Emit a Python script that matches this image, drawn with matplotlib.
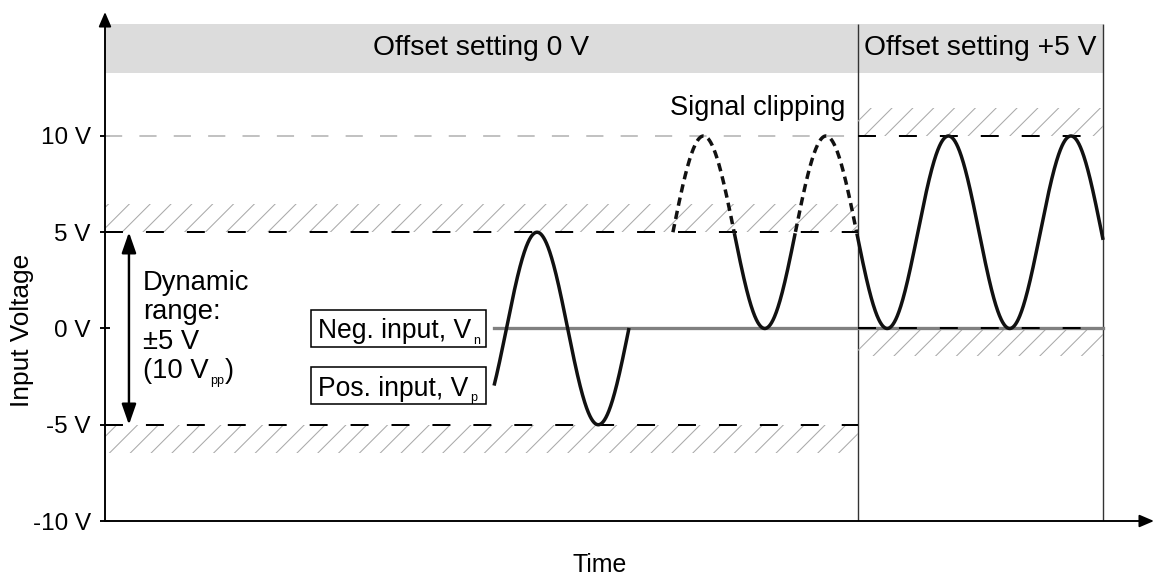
"""
Input range of a differential input with and without offset setting
"""
import numpy as np
import matplotlib.pyplot as plt
from matplotlib.patches import Rectangle

plt.rcParams['font.family'] = ['Liberation Sans', 'DejaVu Sans']
plt.rcParams['hatch.linewidth'] = 0.6

# y axis
tick_volts = [-10, -5, 0, 5, 10]
tick_labels = ['-10 V', '-5 V', '0 V', '5 V', '10 V']

# sections along the time axis
section_names = ['Offset setting 0 V', 'Offset setting +5 V']
section_edges = [0, 75.45, 100.0]
range_lo = [-5, 0]     # lower end of the usable range per section
range_hi = [5, 10]     # upper end
hatch_depth = 1.45
header_lo = 13.27
header_hi = 15.82

# input signals
amplitude = 5
period = 12.27
wave_start = [38.98, 56.9]
wave_zero = [40.22, 56.9]     # rising zero crossing of the sine
wave_end = [52.5, 100.0]
wave_offset = [0, 5]
clip_level = 5                # clipping limit in the 0 V section

vn_start = 38.98
vn_level = 0

# input label boxes
input_labels = ['Neg. input, V', 'Pos. input, V']
input_subs = ['n', 'p']
box_left = 20.64
box_right = 38.18
box_half = 0.98

dyn_lines = ['Dynamic', 'range:', '±5 V', '(10 V']


def add_sub(txt, sub, size=7.2, after=None):
    """small subscript right after a text, and optional text following it"""
    s = ax.annotate(sub, xy=(1, 0), xycoords=txt, xytext=(1.2, -1.3), textcoords='offset points',
                    ha='left', va='bottom', fontsize=size, zorder=txt.get_zorder())
    if after:
        ax.annotate(after, xy=(1, 0), xycoords=(s, txt), xytext=(0.3, 0), textcoords='offset points',
                    ha='left', va='bottom', fontsize=txt.get_fontsize(), zorder=txt.get_zorder())
    return s


fig = plt.figure(figsize=(1154 / 125, 581 / 125), dpi=125)
ax = fig.add_axes([105 / 1154, 60 / 581, 1049 / 1154, 509 / 581])
ax.set_xlim(0, 105.1)
ax.set_ylim(-10, 16.44)
for s in ax.spines.values():
    s.set_visible(False)
ax.set_xticks([])
ax.set_yticks(tick_volts)
ax.set_yticklabels(tick_labels, fontsize=14)
ax.tick_params(axis='y', direction='inout', length=5.5, width=1.1, pad=5.5)

""" header band and separators """
ax.fill_between(section_edges[::2], header_lo, header_hi, color='#dcdcdc', lw=0, zorder=0)
for i, name in enumerate(section_names):
    mid = (section_edges[i] + section_edges[i + 1]) / 2
    ax.text(mid, (header_lo + header_hi) / 2, name, ha='center', va='center', fontsize=16.3)
ax.vlines(section_edges[1:], -10, header_hi, color='#333333', lw=0.8, zorder=1)

""" usable ranges: hatched limits and dashed borders """
for i in range(len(section_names)):
    x = [section_edges[i], section_edges[i + 1]]
    ax.fill_between(x, range_hi[i], range_hi[i] + hatch_depth, facecolor='none',
                    edgecolor='#aaaaaa', hatch='//', lw=0, zorder=1)
    ax.fill_between(x, range_lo[i] - hatch_depth, range_lo[i], facecolor='none',
                    edgecolor='#aaaaaa', hatch='//', lw=0, zorder=1)

# 10 V marker in the first section
ax.plot([section_edges[0], section_edges[1]], [10, 10], color='#c0c0c0', lw=1.1,
        dashes=(9, 9), zorder=2)

# Vn line
ax.plot([vn_start, section_edges[2]], [vn_level, vn_level], color='#808080', lw=1.9, zorder=2)

for i in range(len(section_names)):
    x = [section_edges[i], section_edges[i + 1]]
    ax.plot(x, [range_hi[i]] * 2, color='black', lw=1.15, dashes=(9, 11.5), zorder=3)
    ax.plot(x, [range_lo[i]] * 2, color='black', lw=1.15, dashes=(9, 11.5), zorder=3)

""" signals """
for i in range(len(wave_start)):
    t = np.linspace(wave_start[i], wave_end[i], 1500)
    v = wave_offset[i] + amplitude * np.sin(2 * np.pi * (t - wave_zero[i]) / period)
    clipped = (t < section_edges[1]) & (v > clip_level)
    v_solid = np.where(clipped, np.nan, v)
    ax.plot(t, v_solid, color='#111111', lw=2.0, solid_capstyle='butt', zorder=4)
    if clipped.any():
        v_dash = np.where((t < section_edges[1]) & (v >= clip_level - 0.05), v, np.nan)
        ax.plot(t, v_dash, color='#111111', lw=2.0, dashes=(2.4, 1.5), zorder=4)

ax.text(65.4, 11.45, 'Signal clipping', ha='center', va='center', fontsize=15.6)

""" input labels """
v_pos_start = amplitude * np.sin(2 * np.pi * (wave_start[0] - wave_zero[0]) / period)
for label, sub, level in zip(input_labels, input_subs, [vn_level, v_pos_start]):
    ax.add_patch(Rectangle((box_left, level - box_half), box_right - box_left, 2 * box_half,
                           fc='white', ec='black', lw=0.9, zorder=5))
    txt = ax.text(box_left + 0.7, level - 0.52, label, ha='left', va='baseline',
                  fontsize=15.3, zorder=6)
    add_sub(txt, sub)

""" dynamic range arrow """
ax.annotate('', xy=(2.4, range_hi[0]), xytext=(2.4, range_lo[0]),
            arrowprops=dict(arrowstyle='<|-|>,head_length=1.0,head_width=0.35',
                            mutation_scale=10, color='black', lw=1.4, shrinkA=0, shrinkB=0))
for i, line in enumerate(dyn_lines):
    txt = ax.text(3.8, 2.0 - 1.53 * i, line, ha='left', va='baseline', fontsize=15.8)
add_sub(txt, 'pp', after=')')

""" axes with arrows """
ax.annotate('', xy=(0, 1), xytext=(0, 0), xycoords='axes fraction',
            arrowprops=dict(arrowstyle='-|>,head_length=0.7,head_width=0.3',
                            mutation_scale=10, color='black', lw=1.1, shrinkA=0, shrinkB=0))
ax.annotate('', xy=(1, 0), xytext=(0, 0), xycoords='axes fraction',
            arrowprops=dict(arrowstyle='-|>,head_length=0.7,head_width=0.3',
                            mutation_scale=10, color='black', lw=1.1, shrinkA=0, shrinkB=0))

fig.text(600 / 1154, 1 - 565 / 581, 'Time', ha='center', va='center', fontsize=14.3)
fig.text(22 / 1154, 1 - 330 / 581, 'Input Voltage', ha='center', va='center',
         rotation=90, fontsize=15.1)

fig.savefig('out.png', dpi=125)
